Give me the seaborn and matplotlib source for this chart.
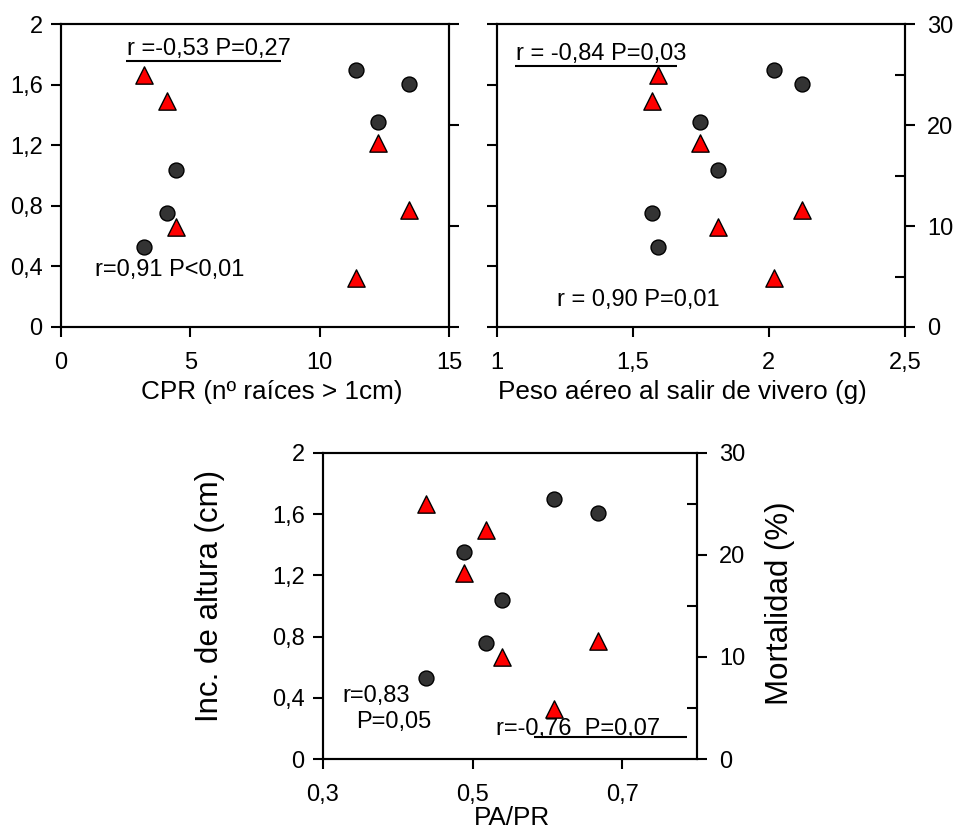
import matplotlib
matplotlib.use("Agg")
import matplotlib.pyplot as plt
import seaborn as sns
import pandas as pd

# one value per nursery treatment, same order in every list
inc_altura = [1.697, 1.605, 1.355, 1.04, 0.755, 0.527]   # cm, left axis
mortalidad = [4.9, 11.6, 18.2, 9.95, 22.4, 25.0]          # %, right axis
cpr = [11.4, 13.47, 12.25, 4.45, 4.12, 3.21]
peso_aereo = [2.018, 2.122, 1.746, 1.812, 1.571, 1.594]
pa_pr = [0.609, 0.667, 0.488, 0.539, 0.518, 0.438]

df = pd.DataFrame({"altura": inc_altura, "mort": mortalidad,
                   "cpr": cpr, "peso": peso_aereo, "pa_pr": pa_pr})

left_ticks = [0, 0.4, 0.8, 1.2, 1.6, 2]
left_labels = ["0", "0,4", "0,8", "1,2", "1,6", "2"]
right_ticks = [0, 10, 20, 30]
right_minor = [5, 15, 25]

cpr_ticks, cpr_labels = [0, 5, 10, 15], ["0", "5", "10", "15"]
peso_ticks, peso_labels = [1, 1.5, 2, 2.5], ["1", "1,5", "2", "2,5"]
papr_ticks, papr_labels = [0.3, 0.5, 0.7], ["0,3", "0,5", "0,7"]

# correlation notes: (text, x, y) in left-axis units, underline = mortality
notes_cpr = [("r =-0,53 P=0,27", 2.55, 1.80), ("r=0,91 P<0,01", 1.32, 0.338)]
line_cpr = (1.758, 2.52, 8.51)
notes_peso = [("r = -0,84 P=0,03", 1.071, 1.763), ("r = 0,90 P=0,01", 1.2215, 0.14)]
line_peso = (1.726, 1.068, 1.661)
notes_papr = [("r=0,83", 0.3267, 0.374), ("P=0,05", 0.3444, 0.204),
              ("r=-0,76  P=0,07", 0.531, 0.157)]
line_papr = (0.142, 0.582, 0.787)

sns.set_style("ticks")
plt.rcParams["font.family"] = ["Liberation Sans", "DejaVu Sans"]
plt.rcParams["text.color"] = "black"
plt.rcParams["axes.labelcolor"] = "black"
plt.rcParams["xtick.color"] = "black"
plt.rcParams["ytick.color"] = "black"

TICK_FS = 17
LW = 1.5

fig = plt.figure(figsize=(9.55, 8.32), dpi=100)


def panel(rect, xcol, xlim, xticks, xlabels, xlabel, label_xy,
          left_lab, right_lab, right_minor_on, notes, uline):
    ax = fig.add_axes(rect)
    sns.scatterplot(data=df, x=xcol, y="altura", ax=ax, marker="o", s=115,
                    color="#333333", edgecolor="black", linewidth=1,
                    legend=False, zorder=3)
    ax.set_xlim(xlim)
    ax.set_ylim(0, 2)
    ax.set_xticks(xticks)
    ax.set_xticklabels(xlabels)
    ax.set_yticks(left_ticks)
    ax.set_yticklabels(left_labels if left_lab else [])
    ax.tick_params(axis="y", direction="out", length=7, width=LW,
                   labelsize=TICK_FS, pad=6)
    ax.tick_params(axis="x", direction="out", length=7, width=LW,
                   labelsize=TICK_FS, pad=11)
    for sp in ax.spines.values():
        sp.set_linewidth(LW)
        sp.set_color("black")
    ax.set_xlabel(xlabel, fontsize=18.8, va="top")
    ax.xaxis.set_label_coords(*label_xy)
    ax.set_ylabel("")
    for txt, tx, ty in notes:
        ax.text(tx, ty, txt, fontsize=TICK_FS, ha="left", va="baseline")
    ax.hlines(uline[0], uline[1], uline[2], color="black", lw=LW)

    ax2 = ax.twinx()
    sns.scatterplot(data=df, x=xcol, y="mort", ax=ax2, marker="^", s=155,
                    color="#ff0000", edgecolor="black", linewidth=1,
                    legend=False, zorder=3)
    ax2.set_ylim(0, 30)
    ax2.set_yticks(right_ticks)
    ax2.set_yticklabels([str(t) for t in right_ticks] if right_lab else [])
    if right_minor_on:
        ax2.set_yticks(right_minor, minor=True)
        ax2.tick_params(axis="y", which="minor", direction="in", length=7,
                        width=LW)
    ax2.tick_params(axis="y", which="major", direction="out", length=7,
                    width=LW, labelsize=TICK_FS, pad=9)
    ax2.set_ylabel("")
    for sp in ax2.spines.values():
        sp.set_linewidth(LW)
        sp.set_color("black")
    return ax, ax2


panel([0.0636, 0.607, 0.4066, 0.3636], "cpr", (0, 15), cpr_ticks, cpr_labels,
      "CPR (nº raíces > 1cm)", (0.544, -0.175), True, False, False,
      notes_cpr, line_cpr)
panel([0.520, 0.607, 0.4275, 0.3636], "peso", (1, 2.5), peso_ticks, peso_labels,
      "Peso aéreo al salir de vivero (g)", (0.456, -0.175), False, True, True,
      notes_peso, line_peso)
ax, ax2 = panel([0.338, 0.0877, 0.392, 0.368], "pa_pr", (0.3, 0.8), papr_ticks,
                papr_labels, "PA/PR", (0.506, -0.152), True, True, True,
                notes_papr, line_papr)

ax.set_ylabel("Inc. de altura (cm)", fontsize=22.5)
ax.yaxis.set_label_coords(-0.261, 0.534)
ax2.set_ylabel("Mortalidad (%)", fontsize=22.5)
ax2.yaxis.set_label_coords(1.182, 0.508)

fig.savefig("out.png", dpi=100)
